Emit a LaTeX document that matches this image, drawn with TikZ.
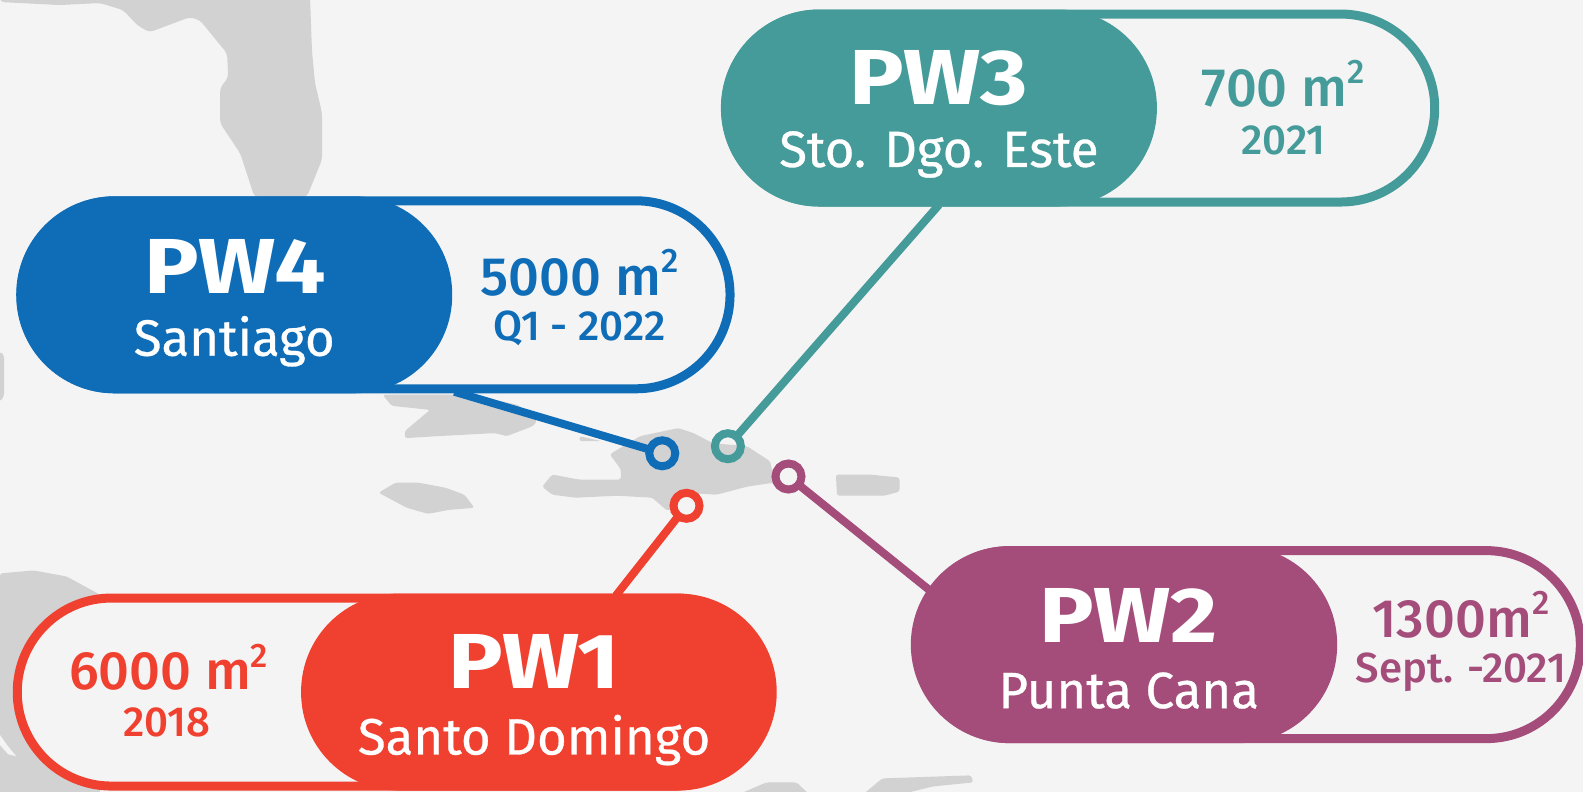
\documentclass[tikz,border=0pt]{standalone}
\usepackage{fontspec}
\setmainfont{Fira Sans}
\newfontfamily\medf{Fira Sans Medium}
\newfontfamily\subf[FakeBold=0.6]{Fira Sans}
\newfontfamily\titlef[FakeStretch=1.17]{Fira Sans}
\newcommand{\sqm}{\raisebox{.42em}{\fontsize{34}{34}\selectfont 2}}
\definecolor{bg}{HTML}{F4F4F4}
\definecolor{land}{HTML}{D2D2D2}
\definecolor{cred}{HTML}{F04130}
\definecolor{cblue}{HTML}{0F6DB8}
\definecolor{cteal}{HTML}{459B99}
\definecolor{cplum}{HTML}{A44C7A}
\tikzset{
 map/.style={fill=land,draw=none,rounded corners=2.5pt},
 pillout/.style={draw=#1,line width=9pt,fill=bg,rounded corners=94pt,minimum height=188pt,inner sep=0pt,outer sep=0pt},
 pillfill/.style={fill=#1,rounded corners=98pt,minimum height=197pt,inner sep=0pt,outer sep=0pt,text=white},
 ring/.style={circle,draw=#1,line width=8pt,minimum size=26pt,inner sep=0pt,outer sep=0pt},
 conn/.style={draw=#1,line width=8pt},
 title/.style={text=white,inner sep=0pt,font=\fontsize{78}{78}\selectfont\titlef\bfseries},
 sub/.style={text=white,inner sep=0pt,font=\fontsize{51}{51}\selectfont\subf},
 big/.style={text=#1,inner sep=0pt,font=\fontsize{54}{54}\selectfont\medf},
 small/.style={text=#1,inner sep=0pt,font=\fontsize{42}{42}\selectfont\medf},
}
\begin{document}
\begin{tikzpicture}[x=1.0096pt,y=-1.0096pt]
\useasboundingbox (0,0) rectangle (1568,784);
\fill[bg] (0,0) rectangle (1568,784);
% map
\fill[map,rounded corners=4pt] (0,-5)--(0,2)--(59,5)--(99,3)--(122,10)--(136,25)--(148,32)--(188,17)--(198,20)--(225,53)--(226,77)--(218,87)--(218,122)--(238,152)--(252,195)--(304,195)--(319,158)--(319,112)--(312,82)--(309,50)--(307,-5)--cycle;
\fill[map] (0,348)--(4,352)--(4,392)--(0,398)--cycle;
\fill[map] (379,391)--(388,402)--(426,406)--(401,427)--(401,434)--(434,432)--(490,429)--(502,432)--(528,422)--(532,417)--(513,401)--(494,397)--(460,391)--cycle;
\fill[map] (574,432)--(596,437)--(574,437)--cycle;
\fill[map] (604,450)--(634,432)--(672,424)--(687,429)--(706,439)--(740,442)--(763,457)--(767,478)--(740,482)--(710,490)--(676,488)--(668,503)--(661,506)--(646,493)--(611,491)--(570,493)--(547,490)--(537,482)--(547,470)--(573,475)--(615,475)--(615,465)--cycle;
\fill[map] (828,470)--(861,470)--(891,473)--(891,487)--(876,491)--(829,491)--cycle;
\fill[map] (375,488)--(392,478)--(414,478)--(441,483)--(460,490)--(470,503)--(445,505)--(424,509)--(403,503)--(388,495)--cycle;
\fill[map] (0,568)--(33,565)--(66,571)--(99,589)--(99,790)--(0,790)--cycle;
\fill[bg] (0,728)--(7,738)--(16,749)--(8,747)--(0,738)--cycle;
\fill[map] (724,790)--(759,775)--(789,775)--(805,790)--(851,790)--(874,771)--(962,768)--(964,775)--(924,779)--(880,790)--cycle;
% connectors and pills
\node[ring=cblue] (r4) at (656,449) {};
\node[ring=cteal] (r3) at (721,442) {};
\node[ring=cred] (r1) at (680,501) {};
\node[ring=cplum] (r2) at (781,472) {};
\coordinate (e4) at (450,388);
\coordinate (e3) at (930,203);
\coordinate (e1) at (610,590);
\coordinate (e2) at (920,584);
\draw[conn=cblue] (r4) -- (e4);
\draw[conn=cteal] (r3) -- (e3);
\draw[conn=cred] (r1) -- (e1);
\draw[conn=cplum] (r2) -- (e2);
% PW3
\node[pillout=cteal,minimum width=709pt] (o3) at (1070,107) {};
\node[pillfill=cteal,minimum width=436pt] (f3) at (930,107) {};
\node[title] (t3) at (930,77) {PW3};
\node[sub] (s3) at (930,153) {Sto. Dgo. Este};
\node[big=cteal] (a3) at (1271,83) {700 m\sqm};
\node[small=cteal] (y3) at (1271,139) {2021};
% PW4
\node[pillout=cblue,minimum width=709pt] (o4) at (372,292) {};
\node[pillfill=cblue,minimum width=436pt] (f4) at (232,292) {};
\node[title] (t4) at (233,264) {PW4};
\node[sub] (s4) at (232,338) {Santiago};
\node[big=cblue] (a4) at (574,270) {5000 m\sqm};
\node[small=cblue] (y4) at (574,325) {Q1 - 2022};
% PW1
\node[pillout=cred,minimum width=755pt] (o1) at (391,685.5) {};
\node[pillfill=cred,minimum width=472pt] (f1) at (532,685.5) {};
\node[title] (t1) at (529,655) {PW1};
\node[sub] (s1) at (529,733) {Santo Domingo};
\node[big=cred] (a1) at (167,661) {6000 m\sqm};
\node[small=cred] (y1) at (165,716) {2018};
% PW2
\node[pillout=cplum,minimum width=665pt] (o2) at (1236,638.5) {};
\node[pillfill=cplum,minimum width=425pt] (f2) at (1114,638.5) {};
\node[title] (t2) at (1118,610) {PW2};
\node[sub] (s2) at (1118,684) {Punta Cana};
\node[big=cplum] (a2) at (1447,609) {1300m\sqm};
\node[small=cplum] (y2) at (1447,666) {Sept. -2021};
\end{tikzpicture}
\end{document}
